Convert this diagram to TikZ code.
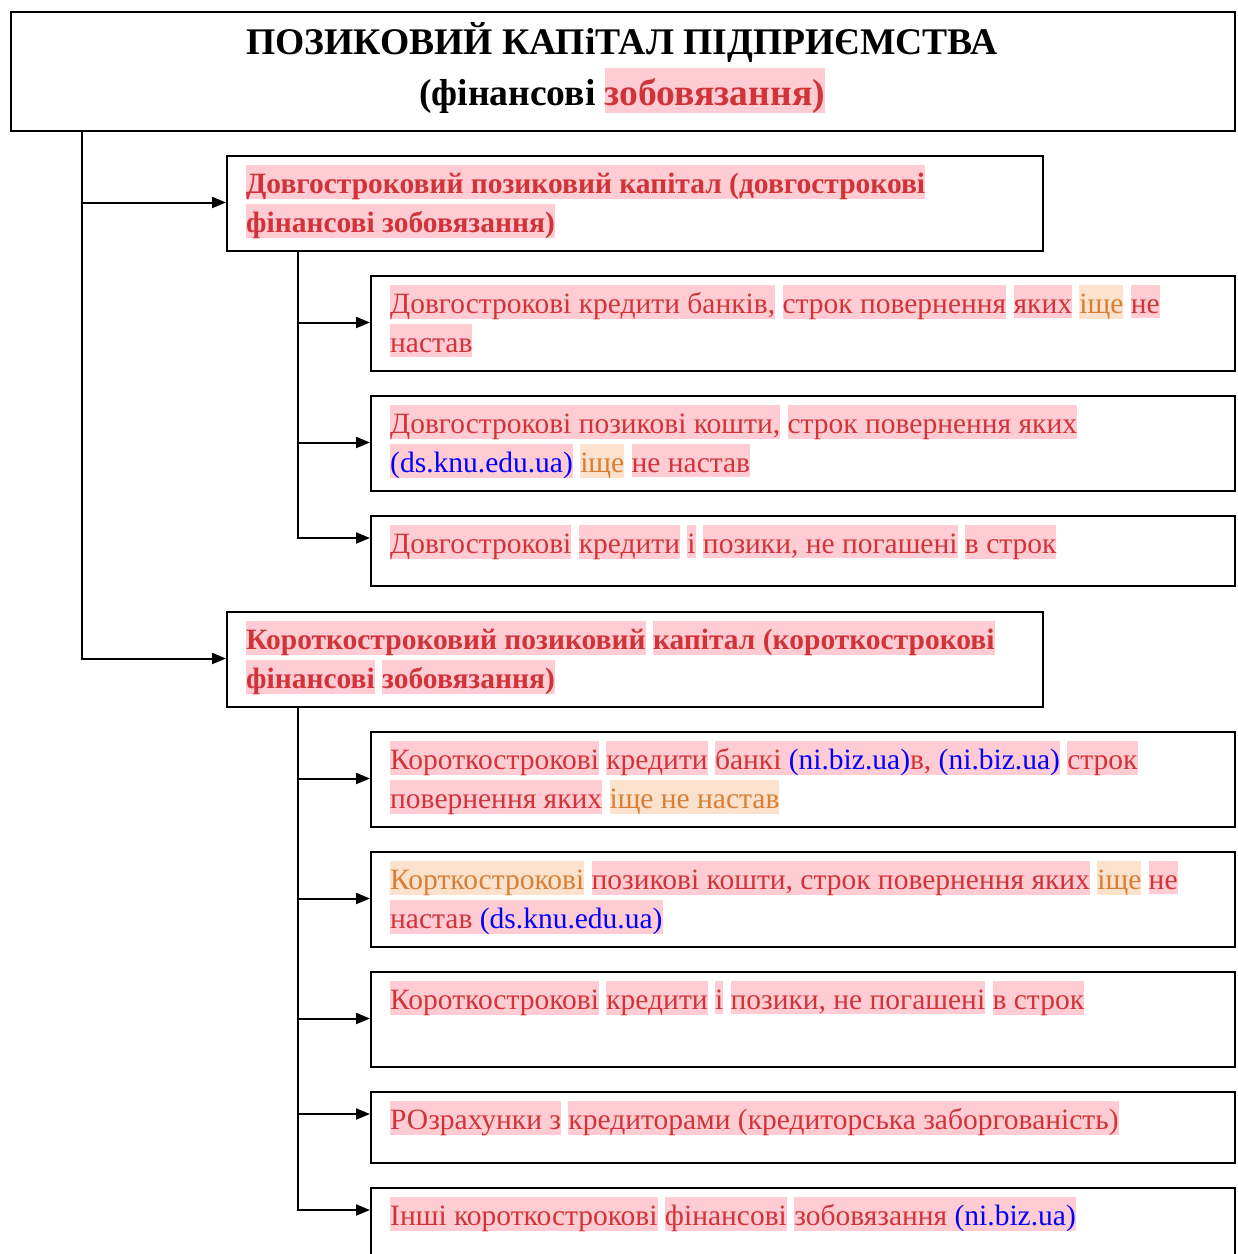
\documentclass[tikz,border=0pt]{standalone}
\usepackage{fontspec}
\setmainfont{Liberation Serif}
\usetikzlibrary{arrows.meta,calc}
\definecolor{tred}{HTML}{D13438}
\definecolor{hlpink}{HTML}{FFCCD3}
\definecolor{torange}{HTML}{D67F35}
\definecolor{hlorange}{HTML}{FCE1CC}
\definecolor{tblue}{HTML}{0000FF}
\newcommand{\hp}[1]{{\setlength{\fboxsep}{0pt}\colorbox{hlpink}{\rule[-5pt]{0pt}{33pt}\textcolor{tred}{#1}}}}
\newcommand{\ho}[1]{{\setlength{\fboxsep}{0pt}\colorbox{hlorange}{\rule[-5pt]{0pt}{33pt}\textcolor{torange}{#1}}}}
\newcommand{\hpt}[1]{{\setlength{\fboxsep}{0pt}\colorbox{hlpink}{\rule[-8pt]{0pt}{45pt}\textcolor{tred}{#1}}}}
\newcommand{\bl}[1]{\textcolor{tblue}{#1}}
\tikzset{
  boxbase/.style={draw, line width=2pt, anchor=north west, inner sep=0pt},
  boxtop/.style={boxbase, minimum width=1224pt, minimum height=119pt},
  boxone/.style={boxbase, minimum width=816pt, minimum height=#1},
  boxtwo/.style={boxbase, minimum width=864pt, minimum height=#1},
  txt/.style={anchor=base west, inner sep=0pt, font=\fontsize{29.5}{39}\selectfont},
  txtb/.style={anchor=base west, inner sep=0pt, font=\bfseries\fontsize{29.5}{39}\selectfont},
  ttl/.style={anchor=base, inner sep=0pt, font=\bfseries\fontsize{37.6}{51}\selectfont},
  conn/.style={line width=2pt, -{Triangle[length=14pt,width=11pt]}}
}
\begin{document}
\begin{tikzpicture}[x=1pt,y=-1pt]
\useasboundingbox (0,0) rectangle (1238,1254);
\clip (0,0) rectangle (1238,1254);
% title
\node[boxtop] (title) at (10,11) {};
\node[ttl] (titletext) at (622,54) {\parbox[t]{1200pt}{\centering ПОЗИКОВИЙ КАПіТАЛ ПІДПРИЄМСТВА\\(фінансові \hpt{зобовязання)}}};
% level 1 boxes
\node[boxone=95pt] (dA) at (226,155) {};
\node[txtb] (dAt) at ($(dA.north west)+(20,38)$) {\parbox[t]{790pt}{\raggedright\hp{Довгостроковий позиковий капітал (довгострокові}\\\hp{фінансові зобовязання)}}};
\node[boxone=95pt] (kA) at (226,611) {};
\node[txtb] (kAt) at ($(kA.north west)+(20,38)$) {\parbox[t]{790pt}{\raggedright\hp{Короткостроковий позиковий} \hp{капітал (короткострокові}\\\hp{фінансові} \hp{зобовязання)}}};
% long-term items
\node[boxtwo=95pt] (b1) at (370,275) {};
\node[txt] (b1t) at ($(b1.north west)+(20,38)$) {\parbox[t]{840pt}{\raggedright\hp{Довгострокові кредити банків,} \hp{строк повернення} \hp{яких} \ho{іще} \hp{не}\\\hp{настав}}};
\node[boxtwo=95pt] (b2) at (370,395) {};
\node[txt] (b2t) at ($(b2.north west)+(20,38)$) {\parbox[t]{840pt}{\raggedright\hp{Довгострокові позикові кошти,} \hp{строк повернення яких}\\\hp{\bl{(ds.knu.edu.ua)}} \ho{іще} \hp{не настав}}};
\node[boxtwo=70pt] (b3) at (370,515) {};
\node[txt] (b3t) at ($(b3.north west)+(20,38)$) {\parbox[t]{840pt}{\raggedright\hp{Довгострокові} \hp{кредити} \hp{і} \hp{позики, не погашені} \hp{в строк}}};
% short-term items
\node[boxtwo=95pt] (c1) at (370,731) {};
\node[txt] (c1t) at ($(c1.north west)+(20,38)$) {\parbox[t]{840pt}{\raggedright\hp{Короткострокові} \hp{кредити} \hp{банкі \bl{(ni.biz.ua)}в, \bl{(ni.biz.ua)}} \hp{строк}\\\hp{повернення яких} \ho{іще не настав}}};
\node[boxtwo=95pt] (c2) at (370,851) {};
\node[txt] (c2t) at ($(c2.north west)+(20,38)$) {\parbox[t]{840pt}{\raggedright\ho{Корткострокові} \hp{позикові кошти, строк повернення яких} \ho{іще} \hp{не}\\\hp{настав \bl{(ds.knu.edu.ua)}}}};
\node[boxtwo=95pt] (c3) at (370,971) {};
\node[txt] (c3t) at ($(c3.north west)+(20,38)$) {\parbox[t]{840pt}{\raggedright\hp{Короткострокові} \hp{кредити} \hp{і} \hp{позики, не погашені} \hp{в строк}}};
\node[boxtwo=71pt] (c4) at (370,1091) {};
\node[txt] (c4t) at ($(c4.north west)+(20,38)$) {\parbox[t]{840pt}{\raggedright\hp{РОзрахунки з} \hp{кредиторами (кредиторська заборгованість)}}};
\node[boxtwo=95pt] (c5) at (370,1187) {};
\node[txt] (c5t) at ($(c5.north west)+(20,38)$) {\parbox[t]{840pt}{\raggedright\hp{Інші короткострокові} \hp{фінансові} \hp{зобовязання \bl{(ni.biz.ua)}}}};
% connectors
\coordinate (t0) at ([xshift=72pt]title.south west);
\coordinate (s1) at ([xshift=72pt]dA.south west);
\coordinate (s2) at ([xshift=72pt]kA.south west);
\draw[conn] (t0) |- ([yshift=-47.5pt]dA.north west);
\draw[conn] (t0) |- ([yshift=-47.5pt]kA.north west);
\foreach \b/\d in {b1/47.5,b2/47.5,b3/23}{\draw[conn] (s1) |- ([yshift=-\d pt]\b.north west);}
\foreach \b/\d in {c1/47.5,c2/47.5,c3/47.5,c4/23,c5/23}{\draw[conn] (s2) |- ([yshift=-\d pt]\b.north west);}
\end{tikzpicture}
\end{document}
